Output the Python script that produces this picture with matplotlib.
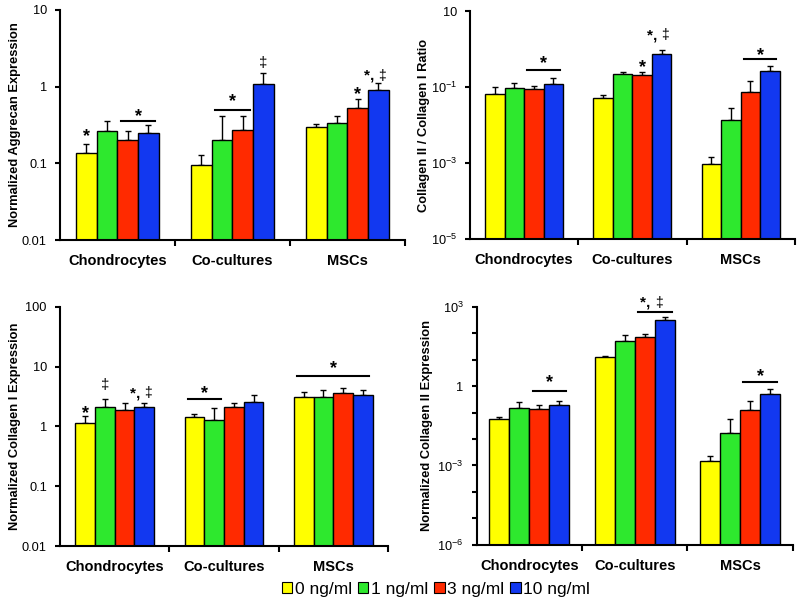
import matplotlib
matplotlib.use("Agg")
import matplotlib.pyplot as plt
import matplotlib.transforms as mtransforms
from matplotlib.patches import Patch
from matplotlib.ticker import FixedLocator, NullLocator

plt.rcParams["font.family"] = ["Liberation Sans", "DejaVu Sans"]
plt.rcParams["mathtext.fontset"] = "custom"
plt.rcParams["mathtext.rm"] = "Liberation Sans"
plt.rcParams["mathtext.it"] = "Liberation Sans:italic"
plt.rcParams["mathtext.bf"] = "Liberation Sans:bold"

groups = ["Chondrocytes", "Co-cultures", "MSCs"]
doses = ["0 ng/ml", "1 ng/ml", "3 ng/ml", "10 ng/ml"]
colors = ["#ffff00", "#2ee82e", "#ff2a00", "#1238f0"]

# values[group][dose], err_top[group][dose]  (upper end of error bar)
aggrecan = [[0.136, 0.26, 0.20, 0.25],
            [0.096, 0.203, 0.27, 1.08],
            [0.30, 0.34, 0.53, 0.91]]
aggrecan_err = [[0.179, 0.36, 0.26, 0.32],
                [0.127, 0.41, 0.41, 1.5],
                [0.33, 0.42, 0.69, 1.12]]

ratio = [[0.066, 0.095, 0.089, 0.126],
         [0.054, 0.23, 0.21, 0.74],
         [0.00093, 0.014, 0.076, 0.27]]
ratio_err = [[0.10, 0.133, 0.107, 0.18],
             [0.062, 0.26, 0.25, 0.94],
             [0.0015, 0.0285, 0.147, 0.36]]

col1 = [[1.14, 2.15, 1.9, 2.1],
        [1.43, 1.29, 2.15, 2.6],
        [3.1, 3.16, 3.6, 3.4]]
col1_err = [[1.52, 2.9, 2.5, 2.45],
            [1.63, 2.0, 2.5, 3.3],
            [3.8, 4.1, 4.35, 4.1]]

col2 = [[0.055, 0.155, 0.134, 0.19],
        [12.9, 50, 73, 313],
        [0.0015, 0.017, 0.123, 0.50]]
col2_err = [[0.069, 0.25, 0.19, 0.28],
            [14, 89, 92, 420],
            [0.0023, 0.056, 0.28, 0.75]]

# significance marks: (group, first bar, last bar, symbol, line offset or None, text offset)
# offsets in pixels: line above error cap, symbol centre above line / cap
aggrecan_sig = [(0, 0, 0, "*", None, 13), (0, 2, 3, "*", 4, 10),
                (1, 1, 2, "*", 6, 14), (1, 3, 3, "\u2021", None, 11),
                (2, 2, 2, "*", None, 10), (2, 3, 3, "*, \u2021", None, 10)]
ratio_sig = [(0, 2, 3, "*", 8, 12), (1, 2, 2, "*", None, 10),
             (1, 3, 3, "*, \u2021", None, 18), (2, 2, 3, "*", 7, 9)]
col1_sig = [(0, 0, 0, "*", None, 8), (0, 1, 1, "\u2021", None, 14),
            (0, 3, 3, "*, \u2021", None, 13), (1, 0, 1, "*", 9, 11),
            (2, 0, 3, "*", 12, 13)]
col2_sig = [(0, 2, 3, "*", 10, 14), (1, 2, 3, "*, \u2021", 5, 12),
            (2, 2, 3, "*", 7, 11)]

# height of the symbol centre above baseline, in em
SYM_CENTRE = {"*": 0.56, "\u2021": 0.30, "*, \u2021": 0.45}


def draw_panel(ax, vals, errs, sig, ylabel, ylabel_x, ylim, yticks, ylabels,
               width=0.18):
    fig = ax.figure
    for j in range(4):
        xs = [i + 0.5 + (j - 1.5) * width for i in range(3)]
        v = [vals[i][j] for i in range(3)]
        e = [errs[i][j] - vals[i][j] for i in range(3)]
        ax.bar(xs, v, width=width, color=colors[j], edgecolor="black",
               linewidth=1, zorder=2)
        ax.errorbar(xs, v, yerr=[[0] * 3, e], fmt="none", ecolor="black",
                    elinewidth=1, capsize=2.5, capthick=1, zorder=1)

    for g, b0, b1, sym, line_off, txt_off in sig:
        top = max(errs[g][b] for b in range(b0, b1 + 1))
        x0 = g + 0.5 + (b0 - 1.5) * width - width / 2
        x1 = g + 0.5 + (b1 - 1.5) * width + width / 2
        xc = (x0 + x1) / 2
        off = 0
        if line_off is not None:
            off = line_off
            tr = mtransforms.offset_copy(ax.transData, fig=fig, y=off, units="dots")
            ax.plot([x0 + 0.03, x1 - 0.03], [top, top], color="black",
                    lw=1.5, transform=tr, clip_on=False)
        fs = 13 if sym == "*" else 11
        off += txt_off - SYM_CENTRE[sym] * fs * fig.dpi / 72
        tr = mtransforms.offset_copy(ax.transData, fig=fig, y=off, units="dots")
        if sym == "*, \u2021":
            # bold star, plain double dagger
            t = ax.text(xc, top, "*, ", transform=tr, ha="right", va="baseline",
                        fontsize=fs, fontweight="bold")
            ax.text(xc, top, "\u2021", transform=tr, ha="left", va="baseline",
                    fontsize=fs - 1)
        else:
            ax.text(xc, top, sym, transform=tr, ha="center", va="baseline",
                    fontsize=fs, fontweight="bold" if sym == "*" else "normal")

    ax.set_yscale("log")
    ax.set_ylim(*ylim)
    ax.set_xlim(0, 3)
    ax.yaxis.set_major_locator(FixedLocator(yticks))
    ax.yaxis.set_minor_locator(NullLocator())
    ax.set_yticks(yticks)
    ax.set_yticklabels(ylabels)
    ax.set_xticks([0.5, 1.5, 2.5])
    ax.set_xticklabels(groups, fontweight="bold", fontsize=10.5)
    ax.set_xticks([1, 2, 3], minor=True)
    ax.tick_params(axis="x", which="major", length=0, pad=10)
    ax.tick_params(axis="x", which="minor", length=4, width=1.5, direction="out")
    ax.tick_params(axis="y", which="major", length=3.5, width=1.5, labelsize=9.2,
                   direction="out", pad=6)
    for s in ("top", "right"):
        ax.spines[s].set_visible(False)
    for s in ("left", "bottom"):
        ax.spines[s].set_linewidth(1.5)
    ax.set_ylabel(ylabel, fontweight="bold", fontsize=9.3)
    ax.yaxis.label.set_verticalalignment("center")
    # place label centre at a given figure pixel column
    bbox = ax.get_position()
    fx = ylabel_x / (fig.get_figwidth() * fig.dpi)
    ax.yaxis.set_label_coords((fx - bbox.x0) / bbox.width, 0.5)


fig = plt.figure(figsize=(8, 6.04), dpi=100)
ax1 = fig.add_axes([0.075, 0.6026, 0.431, 0.381])
ax2 = fig.add_axes([0.5875, 0.604, 0.406, 0.377])
ax3 = fig.add_axes([0.075, 0.096, 0.41, 0.396])
ax4 = fig.add_axes([0.596, 0.098, 0.395, 0.394])

draw_panel(ax1, aggrecan, aggrecan_err, aggrecan_sig,
           "Normalized Aggrecan Expression", 15, (0.01, 10),
           [0.01, 0.1, 1, 10], ["0.01", "0.1", "1", "10"])
draw_panel(ax2, ratio, ratio_err, ratio_sig,
           "Collagen II / Collagen I Ratio", 424, (1e-5, 10),
           [1e-5, 1e-3, 1e-1, 10], ["$10^{-5}$", "$10^{-3}$", "$10^{-1}$", "10"])
draw_panel(ax3, col1, col1_err, col1_sig,
           "Normalized Collagen I Expression", 15, (0.01, 100),
           [0.01, 0.1, 1, 10, 100], ["0.01", "0.1", "1", "10", "100"])
dec = [10.0 ** k for k in range(-6, 4)]
draw_panel(ax4, col2, col2_err, col2_sig,
           "Normalized Collagen II Expression", 427, (1e-6, 1e3),
           dec, ["$10^{-6}$" if k == -6 else "$10^{-3}$" if k == -3 else
                 "1" if k == 0 else "$10^{3}$" if k == 3 else ""
                 for k in range(-6, 4)], width=0.19)

handles = [Patch(facecolor=c, edgecolor="black", linewidth=0.8) for c in colors]
fig.legend(handles, doses, loc="center", bbox_to_anchor=(0.545, 0.024),
           ncol=4, frameon=False, fontsize=12.5, handlelength=0.6,
           handleheight=0.6, handletextpad=0.15, columnspacing=0.35)

fig.savefig("out.png", dpi=100)
